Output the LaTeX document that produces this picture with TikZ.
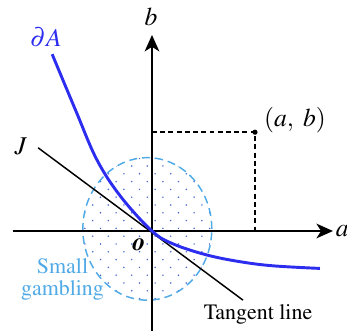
\documentclass[tikz,border=0pt]{standalone}
\usepackage[T1]{fontenc}
\usepackage{mathptmx}
\usetikzlibrary{arrows.meta}
\definecolor{curveblue}{RGB}{45,45,240}
\definecolor{gambleblue}{RGB}{80,170,230}
\definecolor{dotblue}{RGB}{70,100,210}

\begin{document}
\begin{tikzpicture}[
  axis/.style={line width=1.1pt, -{Stealth[length=9pt, width=8pt, inset=2.5pt]}},
  guide/.style={line width=0.8pt, dash pattern=on 2.7pt off 1.8pt},
  gamble/.style={gambleblue, line width=0.8pt, dash pattern=on 4.4pt off 2.7pt},
  lbl/.style={font=\fontsize{12}{12}\selectfont, inner sep=0pt, align=center},
  mlbl/.style={font=\fontsize{14}{14}\selectfont, inner sep=0pt}]

\useasboundingbox (-2.923,-1.923) rectangle (3.75,4.442);

% axes
\coordinate (O)  at (0,0);
\coordinate (xl) at (-2.68,0);
\coordinate (xr) at (3.48,0);
\coordinate (yb) at (0,-1.95);
\coordinate (yt) at (0,3.77);
\coordinate (P)  at (1.98,1.90);

% small gambling region
\begin{scope}
  \clip (-0.09,0.04) ellipse [x radius=1.24, y radius=1.37];
  \foreach \k in {-10,...,10} {
    \pgfmathsetmacro{\off}{mod(\k+20,2)==0 ? 0.21 : 0.06}
    \foreach \m in {-5,...,4}
      \fill[dotblue] ({\off+0.3*\m},{0.05+0.15*\k}) circle (0.016);
  }
\end{scope}
\draw[gamble] (-0.09,0.04) ellipse [x radius=1.24, y radius=1.37];

\draw[axis] (xl) -- (xr);
\draw[axis] (yb) -- (yt);
\node[mlbl, anchor=west] (alab) at (3.53,0) {$a$};
\node[mlbl] (blab) at (-0.02,4.12) {$b$};

% the point and its guides
\draw[guide] (P -| O) -- (P) -- (P |- O);
\fill (P) circle (0.05);
\node[mlbl] (Plab) at (2.75,2.13) {$(a,\ b)$};

% tangent line
\coordinate (Jl) at (-2.19,1.60);
\coordinate (Jr) at (1.75,-1.33);
\draw[line width=0.8pt] (Jl) -- (Jr);
\node[mlbl] (Jlab) at (-2.52,1.63) {$J$};
\node[lbl] (tlab) at (2.04,-1.6) {Tangent line};

% boundary of A
\draw[curveblue, line width=1.6pt] plot[smooth, tension=0.6] coordinates
  {(-1.92,3.40) (-1.46,2.30) (-1.06,1.37) (-0.6,0.66) (0,0) (0.41,-0.25)
   (1.05,-0.46) (1.69,-0.59) (2.33,-0.67) (3.23,-0.72)};
\node[mlbl, curveblue] (dAlab) at (-2.04,3.72) {$\partial A$};

\node[mlbl] (olab) at (-0.25,-0.27) {\textbf{\textit{o}}};
\node[lbl, gambleblue] (sglab) at (-1.72,-0.94) {Small\\gambling};
\end{tikzpicture}
\end{document}
